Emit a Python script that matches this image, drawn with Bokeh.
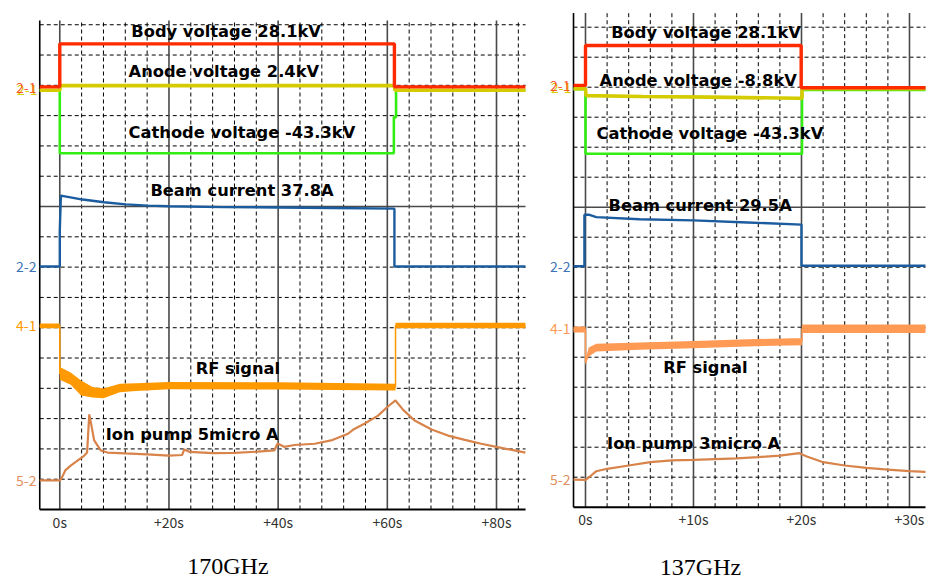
from bokeh.plotting import figure
from bokeh.models import Range1d
from bokeh.layouts import row
from bokeh.core.properties import value
from bokeh.embed import file_html
from bokeh.resources import INLINE

# ---------------- data: 170 GHz shot (time in s, level in screen divisions) ----------------
L_body_t = [-3.67, 0, 0, 61.3, 61.3, 85.3]
L_body_v = [13.95, 13.95, 15.37, 15.37, 13.95, 13.95]
L_anode_t = [-3.67, 0, 0.1, 61.3, 61.4, 85.3]
L_anode_v = [13.84, 13.84, 13.99, 13.99, 13.84, 13.84]
L_cath_t = [-3.67, 0, 0, 61.2, 61.2, 61.6, 61.6, 85.3]
L_cath_v = [13.84, 13.84, 11.76, 11.76, 12.95, 12.95, 13.84, 13.84]
L_beam_t = [-3.67, 0, 0, 0.2, 4.2, 8.1, 12.1, 16.1, 20, 30, 40, 50, 61.3, 61.3, 85.3]
L_beam_v = [8.02, 8.02, 9.2, 10.36, 10.23, 10.14, 10.07, 10.03, 10.01, 9.98, 9.97, 9.95, 9.93, 8.02, 8.02]
L_rf_t = [-3.67, 0, 0, 2, 3.9, 6, 8, 11, 14, 20, 40, 61.5, 61.5, 85.3]
L_rf_v = [6.06, 6.06, 4.49, 4.32, 4.01, 3.87, 3.83, 4.01, 4.04, 4.09, 4.08, 4.04, 6.07, 6.07]
L_rf_noise = [0.08, 0.08, 0.21, 0.2, 0.25, 0.17, 0.16, 0.14, 0.13, 0.12, 0.12, 0.11, 0.09, 0.09]
L_ion_t = [-3.67, 0, 0.3, 1, 2, 3, 4.5, 5.0, 5.4, 5.8, 6.3, 7.5, 8.75, 12, 16, 20, 22.4, 22.8, 23.8,
           28, 32, 36.3, 39.3, 39.9, 41.1, 43, 46.7, 49.7, 52.8, 53.7, 55.8, 58.3, 60.1, 61.5,
           62.9, 65, 68.1, 71.1, 74.2, 77.2, 80.2, 85.3]
L_ion_v = [0.96, 0.96, 1.02, 1.29, 1.45, 1.58, 1.78, 1.88, 3.14, 2.77, 2.28, 1.95, 1.88, 1.85, 1.82, 1.78, 1.80, 1.98, 1.90,
           1.86, 1.87, 1.91, 1.95, 2.18, 2.07, 2.13, 2.17, 2.28, 2.50, 2.63, 2.83, 3.10, 3.40, 3.60,
           3.29, 2.94, 2.64, 2.44, 2.30, 2.17, 2.06, 1.88]
L_ticks = [0, 20, 40, 60, 80]
L_tick_labels = ["0s", "+20s", "+40s", "+60s", "+80s"]
L_texts = ["Body voltage 28.1kV", "Anode voltage 2.4kV", "Cathode voltage -43.3kV",
           "Beam current 37.8A", "RF signal", "Ion pump 5micro A"]
L_caption = "170GHz"

# ---------------- data: 137 GHz shot ----------------
R_body_t = [-1.11, 0, 0, 19.97, 19.97, 31.48]
R_body_v = [14.06, 14.06, 15.39, 15.39, 13.98, 13.98]
R_anode_t = [-1.11, 0, 0.05, 5.3, 11.5, 19.7, 20.05, 20.05, 31.48]
R_anode_v = [13.95, 13.95, 13.72, 13.69, 13.67, 13.63, 13.63, 13.95, 13.95]
R_cath_t = [-1.11, 0, 0, 20.05, 20.05, 31.48]
R_cath_v = [13.93, 13.93, 11.78, 11.78, 13.91, 13.91]
R_beam_t = [-1.11, -0.1, -0.1, 0.3, 1, 5, 10, 15, 20, 20, 31.48]
R_beam_v = [8.03, 8.03, 9.75, 9.75, 9.67, 9.6, 9.56, 9.49, 9.42, 8.05, 8.05]
R_rf_t = [-1.11, 0, 0, 0.3, 1, 5, 10, 15, 20.05, 20.05, 31.48]
R_rf_v = [5.92, 5.92, 4.83, 5.17, 5.32, 5.37, 5.42, 5.48, 5.52, 5.95, 5.95]
R_rf_noise = [0.1, 0.1, 0.1, 0.15, 0.13, 0.12, 0.12, 0.12, 0.12, 0.14, 0.14]
R_ion_t = [-1.11, 0, 0.3, 1, 2, 4, 6, 8, 10, 14, 16, 18, 19.8, 20.5, 22, 24, 26, 28, 30, 31.48]
R_ion_v = [0.92, 0.91, 0.99, 1.2, 1.28, 1.39, 1.5, 1.56, 1.58, 1.63, 1.67, 1.72, 1.8, 1.69, 1.5,
           1.39, 1.31, 1.25, 1.2, 1.18]
R_ticks = [0, 10, 20, 30]
R_tick_labels = ["0s", "+10s", "+20s", "+30s"]
R_texts = ["Body voltage 28.1kV", "Anode voltage -8.8kV", "Cathode voltage -43.3kV",
           "Beam current 29.5A", "RF signal", "Ion pump 3micro A"]
R_caption = "137GHz"

channel_labels = ["2-1", "2-2", "4-1", "5-2"]

# ---------------- styles ----------------
C_BODY = "#FF2A00"
C_ANODE = "#D4CC00"
C_CATH = "#33EE11"
C_BEAM = "#1B5C9E"
C_ION = "#D8834A"
TXT_FONT = value("DejaVu Sans")
TICK_FONT = value("Noto Sans CJK JP")
GRID_DASH = "4 3"


def panel(width, height, fig_xr, fig_yr, box, ticks, tick_labels, minor_step, tick_y,
          body, anode, cath, beam, rf, rf_color, ion,
          texts, text_pos, chan_x, chan_y, caption, cap_pos):
    x0, x1, ytop = box
    p = figure(width=width, height=height, x_range=Range1d(*fig_xr), y_range=Range1d(*fig_yr),
               output_backend="svg", toolbar_location=None,
               x_axis_type=None, y_axis_type=None,
               min_border=0, min_border_left=0, min_border_right=0,
               min_border_top=0, min_border_bottom=0,
               outline_line_color=None, background_fill_color="white", border_fill_color="white")

    # --- oscilloscope graticule ---
    span = ticks[1] - ticks[0]
    minors = []
    k = 1
    while k * minor_step < x1:
        v = k * minor_step
        if v % span != 0:
            minors.append(v)
        k += 1
    hdash = [k for k in range(1, 17) if k != 10 and k < ytop]
    p.segment(x0=minors, y0=[0] * len(minors), x1=minors, y1=[ytop] * len(minors),
              line_color="black", line_width=1, line_dash=GRID_DASH)
    p.segment(x0=[x0] * len(hdash), y0=hdash, x1=[x1] * len(hdash), y1=hdash,
              line_color="black", line_width=1, line_dash=GRID_DASH)
    p.segment(x0=ticks, y0=[0] * len(ticks), x1=ticks, y1=[ytop] * len(ticks),
              line_color="#4a4a4a", line_width=1.6)
    p.segment(x0=[x0], y0=[10], x1=[x1], y1=[10], line_color="#4a4a4a", line_width=1.6)
    # frame lines (left edge and time axis)
    p.segment(x0=[x0], y0=[0], x1=[x0], y1=[ytop], line_color="black", line_width=1.6)
    p.segment(x0=[x0], y0=[0], x1=[x1], y1=[0], line_color="black", line_width=2)
    # time-axis tick labels
    p.text(x=ticks, y=[tick_y] * len(ticks), text=tick_labels, text_font=TICK_FONT,
           text_font_size="14px", text_color="#333333", text_align="center",
           text_baseline="middle")

    # --- traces ---
    it, iv = ion
    p.line(it, iv, line_color=C_ION, line_width=2.2)
    rt, rv, rn = rf
    p.varea(x=rt, y1=[v - w for v, w in zip(rv, rn)], y2=[v + w for v, w in zip(rv, rn)],
            fill_color=rf_color)
    p.line(rt, rv, line_color=rf_color, line_width=1.5)
    bt_, bv = beam
    p.line(bt_, bv, line_color=C_BEAM, line_width=2.4)
    ct, cv = cath
    p.line(ct, cv, line_color=C_CATH, line_width=2.6)
    at, av = anode
    p.line(at, av, line_color=C_ANODE, line_width=3.6)
    yt, yv = body
    p.line(yt, yv, line_color=C_BODY, line_width=3.4)

    # --- in-plot titles ---
    p.text(x=[q[0] for q in text_pos], y=[q[1] for q in text_pos], text=texts,
           text_font=TXT_FONT, text_font_size="16.3px", text_font_style="bold",
           text_color="black", text_align="left", text_baseline="middle")

    # --- channel markers (overlapping red/yellow 2-1 reads as "2=1") ---
    y21, y22, y41, y52 = chan_y
    p.text(x=[chan_x], y=[y21], x_offset=1, y_offset=1, text=[channel_labels[0]], text_font=TICK_FONT,
           text_font_size="14px", text_color=C_ANODE, text_align="right", text_baseline="middle")
    p.text(x=[chan_x], y=[y21], y_offset=-1, text=[channel_labels[0]], text_font=TICK_FONT,
           text_font_size="14px", text_color=C_BODY, text_alpha=0.8, text_align="right",
           text_baseline="middle")
    p.text(x=[chan_x] * 3, y=[y22, y41, y52], text=channel_labels[1:], text_font=TICK_FONT,
           text_font_size="14px", text_color=["#3C74B4", rf_color, "#E09060"],
           text_align="right", text_baseline="middle")

    # --- caption ---
    p.text(x=[cap_pos[0]], y=[cap_pos[1]], text=[caption], text_font=value("Liberation Serif"),
           text_font_size="24px", text_color="black", text_align="center", text_baseline="middle")
    return p


left = panel(540, 579, (-10.86, 88.06), (-2.31, 16.80), (-3.67, 85.32, 16.14),
             L_ticks, L_tick_labels, 4, -0.40,
             (L_body_t, L_body_v), (L_anode_t, L_anode_v), (L_cath_t, L_cath_v),
             (L_beam_t, L_beam_v), (L_rf_t, L_rf_v, L_rf_noise), "#FF9900",
             (L_ion_t, L_ion_v),
             L_texts, [(13.1, 15.78), (12.6, 14.47), (12.6, 12.43), (16.6, 10.54), (24.9, 4.65), (8.4, 2.48)],
             -4.27, (13.9, 8.02, 6.07, 0.96), L_caption, (30.8, -1.88))

right = panel(388, 579, (-4.167, 31.76), (-2.41, 16.89), (-1.11, 31.48, 16.47),
              R_ticks, R_tick_labels, 2, -0.40,
              (R_body_t, R_body_v), (R_anode_t, R_anode_v), (R_cath_t, R_cath_v),
              (R_beam_t, R_beam_v), (R_rf_t, R_rf_v, R_rf_noise), "#FF9A55",
              (R_ion_t, R_ion_v),
              R_texts, [(2.38, 15.84), (1.30, 14.24), (1.02, 12.47), (2.13, 10.07), (7.19, 4.66), (2.0, 2.12)],
              -1.39, (14.02, 8.02, 5.96, 0.92), R_caption, (10.65, -1.98))

p = row(left, right)
open("out.html", "w").write(file_html(p, INLINE))
